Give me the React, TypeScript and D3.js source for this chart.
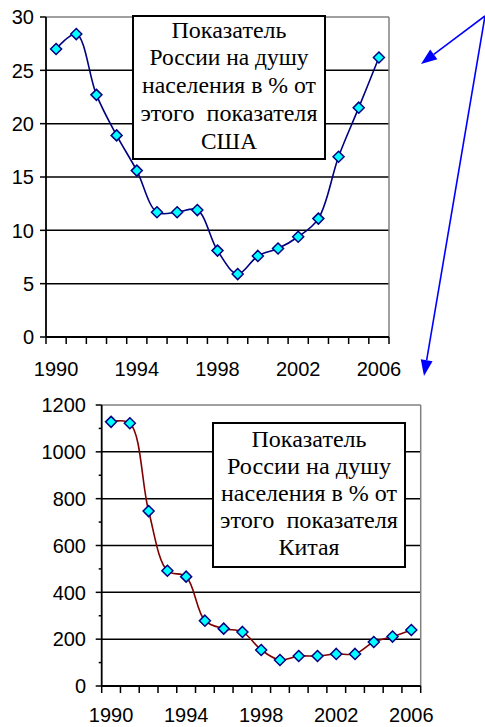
import * as d3 from 'd3';

const years = ['1990', '1991', '1992', '1993', '1994', '1995', '1996', '1997', '1998', '1999', '2000', '2001', '2002', '2003', '2004', '2005', '2006'];
const xTickLabels = ['1990', '1994', '1998', '2002', '2006'];

// Russia per capita as % of USA
const usaValues = [27.0, 28.4, 22.7, 18.9, 15.6, 11.7, 11.7, 11.9, 8.1, 5.9, 7.6, 8.3, 9.4, 11.1, 16.9, 21.5, 26.2];
// Russia per capita as % of China
const chinaValues = [1128, 1122, 747, 492, 467, 279, 245, 231, 154, 111, 128, 128, 137, 137, 188, 211, 239];

const usaTitle = ['Показатель', 'России на душу', 'населения в % от', 'этого  показателя', 'США'];
const chinaTitle = ['Показатель', 'России на душу', 'населения в % от', 'этого  показателя', 'Китая'];

interface ChartProps {
  values: number[];
  left: number;
  right: number;
  top: number;
  bottom: number;
  yMax: number;
  yStep: number;
  yMinor?: number;
  color: string;
  box: { x: number; y: number; w: number; h: number; first: number; step: number; widths: number[] };
  title: string[];
  xLabelY: number;
  yLabelX: number;
}

function Chart({ values, left, right, top, bottom, yMax, yStep, yMinor, color, box, title, xLabelY, yLabelX }: ChartProps) {
  const x = d3.scaleBand().domain(years).range([left, right]);
  const y = d3.scaleLinear().domain([0, yMax]).range([bottom, top]);
  const cx = (d: string) => (x(d) ?? 0) + x.bandwidth() / 2;

  const line = d3
    .line<number>()
    .x((_, i) => cx(years[i]))
    .y((d) => y(d))
    .curve(d3.curveCatmullRom.alpha(0.5));

  const majors = d3.range(0, yMax + 1, yStep);
  const minors = yMinor ? d3.range(yMinor, yMax, yMinor).filter((v) => v % yStep !== 0) : [];
  const boundaries = [...years.map((d) => x(d) ?? 0), right];
  const r = 5.5;

  return (
    <g>
      <rect x={left} y={top} width={right - left} height={bottom - top} fill="#fff" />
      {majors.filter((v) => v > 0 && v < yMax).map((v) => (
        <line key={v} x1={left} x2={right} y1={y(v)} y2={y(v)} stroke="#000" strokeWidth={1.5} />
      ))}
      <line x1={left} x2={right} y1={top} y2={top} stroke="#808080" strokeWidth={1.5} />
      <line x1={right} x2={right} y1={top} y2={bottom} stroke="#808080" strokeWidth={1.5} />

      <rect x={box.x} y={box.y} width={box.w} height={box.h} fill="#fff" stroke="#000" strokeWidth={2} />
      {title.map((t, i) => (
        <text
          key={i}
          x={box.x + box.w / 2}
          y={box.first + i * box.step}
          textAnchor="middle"
          fontFamily="'Liberation Serif', 'Times New Roman', serif"
          fontSize={23}
          textLength={box.widths[i]}
          lengthAdjust="spacingAndGlyphs"
          style={{ whiteSpace: 'pre' }}
        >
          {t}
        </text>
      ))}

      <path d={line(values) ?? ''} fill="none" stroke={color} strokeWidth={1.6} />
      {values.map((v, i) => {
        const px = cx(years[i]);
        const py = y(v);
        return (
          <path
            key={i}
            d={`M${px},${py - r}L${px + r},${py}L${px},${py + r}L${px - r},${py}Z`}
            fill="#00ffff"
            stroke="#000080"
            strokeWidth={1.5}
          />
        );
      })}

      <line x1={left} x2={left} y1={top} y2={bottom} stroke="#000" strokeWidth={1.8} />
      <line x1={left} x2={right} y1={bottom} y2={bottom} stroke="#000" strokeWidth={1.8} />
      {majors.map((v) => (
        <g key={v}>
          <line x1={left - 6} x2={left} y1={y(v)} y2={y(v)} stroke="#000" strokeWidth={1.5} />
          <text
            x={yLabelX}
            y={y(v)}
            dy="0.36em"
            textAnchor="end"
            fontFamily="'Liberation Sans', Arial, sans-serif"
            fontSize={20}
          >
            {v}
          </text>
        </g>
      ))}
      {minors.map((v) => (
        <line key={v} x1={left - 3} x2={left} y1={y(v)} y2={y(v)} stroke="#000" strokeWidth={1.5} />
      ))}
      {boundaries.map((b, i) => (
        <line key={i} x1={b} x2={b} y1={bottom} y2={bottom + 7} stroke="#000" strokeWidth={1.5} />
      ))}
      {xTickLabels.map((d) => (
        <text
          key={d}
          x={cx(d)}
          y={xLabelY}
          textAnchor="middle"
          fontFamily="'Liberation Sans', Arial, sans-serif"
          fontSize={20}
        >
          {d}
        </text>
      ))}
    </g>
  );
}

function Arrow({ x1, y1, x2, y2 }: { x1: number; y1: number; x2: number; y2: number }) {
  const a = Math.atan2(y2 - y1, x2 - x1);
  const len = 16;
  const half = 6;
  const bx = x2 - len * Math.cos(a);
  const by = y2 - len * Math.sin(a);
  const px = -Math.sin(a) * half;
  const py = Math.cos(a) * half;
  return (
    <g>
      <line x1={x1} y1={y1} x2={bx} y2={by} stroke="#0000ff" strokeWidth={1.6} />
      <path d={`M${x2},${y2}L${bx + px},${by + py}L${bx - px},${by - py}Z`} fill="#0000ff" />
    </g>
  );
}

export default function App() {
  return (
    <svg width={485} height={727} style={{ position: 'absolute', left: 0, top: 0, background: '#fff' }}>
      <Chart
        values={usaValues}
        left={46}
        right={389}
        top={17}
        bottom={337}
        yMax={30}
        yStep={5}
        color="#000080"
        box={{ x: 133, y: 16, w: 192, h: 143, first: 37.5, step: 27.8, widths: [115, 159, 174, 177, 56] }}
        title={usaTitle}
        xLabelY={376}
        yLabelX={34}
      />
      <Chart
        values={chinaValues}
        left={101.7}
        right={420.7}
        top={405}
        bottom={686}
        yMax={1200}
        yStep={200}
        yMinor={100}
        color="#800000"
        box={{ x: 213, y: 423, w: 192, h: 144, first: 447, step: 27, widths: [115, 164, 176, 178, 61] }}
        title={chinaTitle}
        xLabelY={722}
        yLabelX={86}
      />
      <Arrow x1={485} y1={16} x2={421} y2={64} />
      <Arrow x1={485} y1={16} x2={424} y2={376} />
    </svg>
  );
}
